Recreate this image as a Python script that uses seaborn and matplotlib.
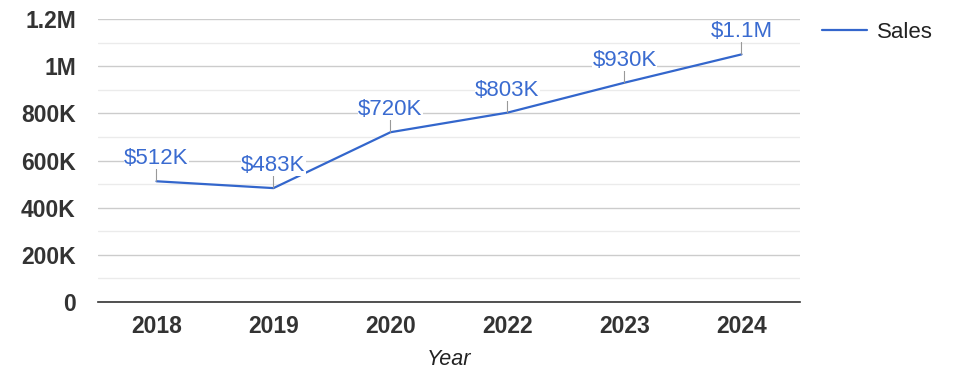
import matplotlib
matplotlib.use("Agg")
import matplotlib.pyplot as plt
import seaborn as sns
import pandas as pd
from matplotlib.ticker import FixedLocator, MultipleLocator

years = ["2018", "2019", "2020", "2022", "2023", "2024"]
sales = [512000, 483000, 720000, 803000, 930000, 1050000]
labels = ["$512K", "$483K", "$720K", "$803K", "$930K", "$1.1M"]
ytick_vals = [0, 200000, 400000, 600000, 800000, 1000000, 1200000]
ytick_labels = ["0", "200K", "400K", "600K", "800K", "1M", "1.2M"]

sns.set_theme(style="white")
plt.rcParams["font.family"] = ["Liberation Sans", "DejaVu Sans"]

df = pd.DataFrame({"Year": years, "Sales": sales})

fig = plt.figure(figsize=(9.75, 3.78), dpi=100)
ax = fig.add_axes([0.1005, 0.201, 0.72, 0.7487])

color = "#3366cc"
sns.lineplot(data=df, x="Year", y="Sales", ax=ax, color=color, lw=1.6,
             label="Sales", zorder=3, sort=False)

ax.set_xlim(-0.5, len(years) - 0.5)
ax.set_ylim(0, 1200000)
ax.yaxis.set_major_locator(FixedLocator(ytick_vals))
ax.set_yticklabels(ytick_labels)
ax.yaxis.set_minor_locator(MultipleLocator(100000))
ax.grid(True, which="major", axis="y", color="#cccccc", lw=1)
ax.grid(True, which="minor", axis="y", color="#ebebeb", lw=1)
ax.set_axisbelow(True)
for s in ["top", "right", "left"]:
    ax.spines[s].set_visible(False)
ax.spines["bottom"].set_color("#333333")
ax.spines["bottom"].set_linewidth(1.2)
ax.spines["bottom"].set_zorder(4)
ax.tick_params(axis="both", which="both", length=0)
ax.tick_params(axis="y", pad=16)
ax.tick_params(axis="x", pad=9)
for t in ax.get_yticklabels() + ax.get_xticklabels():
    t.set_fontsize(16.5)
    t.set_fontweight("bold")
    t.set_color("#333333")

ax.set_ylabel("")
ax.set_xlabel("Year", fontsize=15.5, style="italic", color="#222222", labelpad=8)

for i, (v, lab) in enumerate(zip(sales, labels)):
    ax.annotate(lab, xy=(i, v), xytext=(0, 12), textcoords="offset pixels",
                ha="center", va="bottom", fontsize=16, color="#3a6bd0", zorder=5,
                bbox=dict(boxstyle="square,pad=0.0", fc="white", ec="none"),
                arrowprops=dict(arrowstyle="-", color="#999999", lw=0.8,
                                shrinkA=0, shrinkB=0, relpos=(0.5, 0)))

leg = ax.legend(loc="upper left", bbox_to_anchor=(1.003, 1.06), frameon=False,
                fontsize=16, handlelength=2.0, handletextpad=0.45)
for t in leg.get_texts():
    t.set_color("#222222")

fig.savefig("out.png", dpi=100)
